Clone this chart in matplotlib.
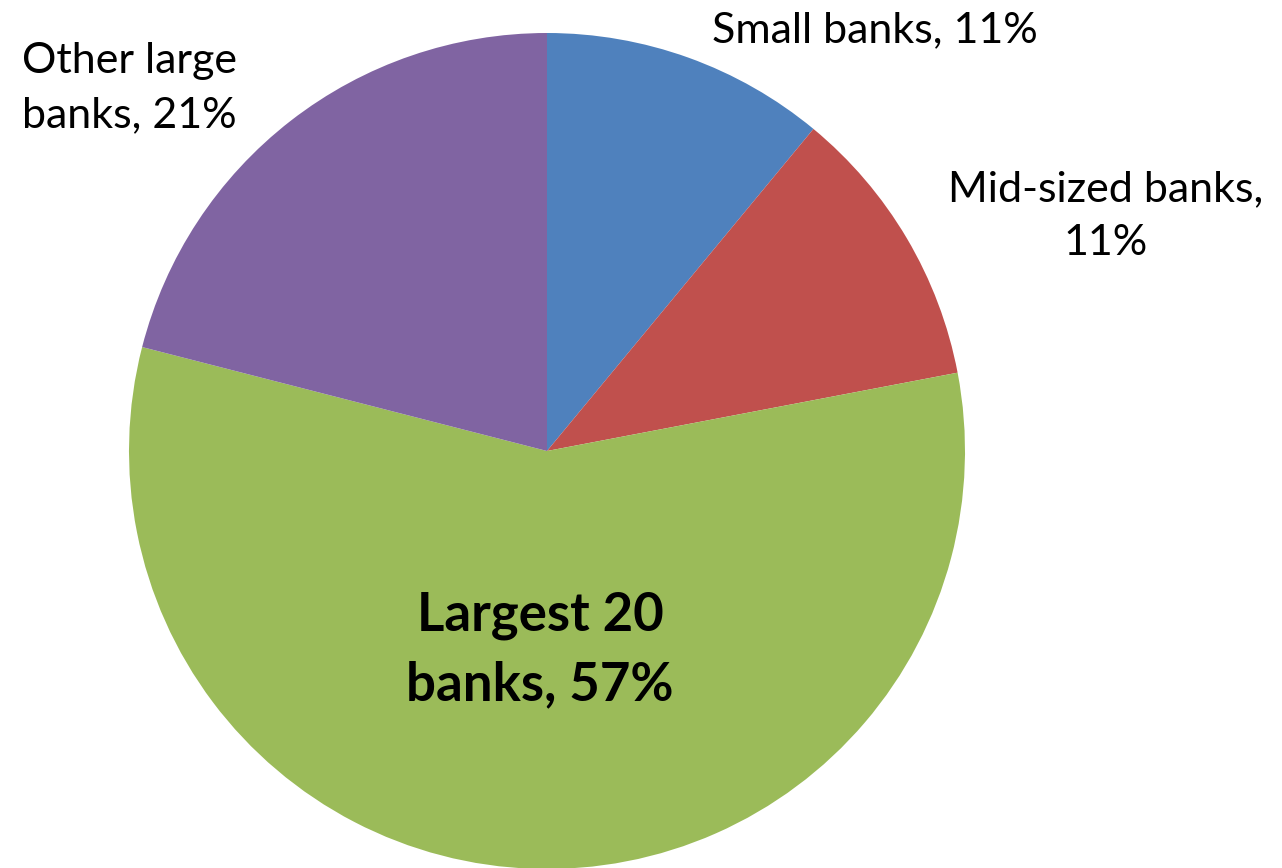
import matplotlib.pyplot as plt

# Data
categories = ["Small banks", "Mid-sized banks", "Largest 20 banks", "Other large banks"]
shares = [11, 11, 57, 21]
colors = ["#4F81BD", "#C0504D", "#9BBB59", "#8064A2"]

plt.rcParams['font.family'] = ['Lato', 'DejaVu Sans']

fig = plt.figure(figsize=(12.82, 8.68), dpi=100)
ax = fig.add_axes([0, 0, 1, 1])

# Pie drawn in pixel-like data coords
ax.pie(shares, colors=colors, startangle=90, counterclock=False,
       center=(547, 417), radius=418, frame=True,
       wedgeprops=dict(linewidth=0))
ax.set_xlim(0, 1282)
ax.set_ylim(0, 868)
ax.set_aspect('equal')
ax.axis('off')

# Labels
labels = [c + ", " + str(s) + "%" for c, s in zip(categories, shares)]
ax.text(875, 838, labels[0], ha="center", va="center", fontsize=31)
ax.text(1106, 652, "Mid-sized banks,\n" + str(shares[1]) + "%", ha="center", va="center",
        fontsize=31, linespacing=1.5)
ax.text(540, 218, "Largest 20\nbanks, " + str(shares[2]) + "%", ha="center", va="center",
        fontsize=38, fontweight="bold", linespacing=1.5)
ax.text(129, 780, "Other large\nbanks, " + str(shares[3]) + "%", ha="center", va="center",
        fontsize=31, linespacing=1.5)

fig.savefig("out.png", dpi=100)
